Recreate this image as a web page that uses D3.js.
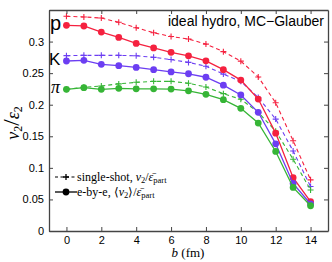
<!DOCTYPE html>
<html><head><meta charset="utf-8">
<script src="https://cdn.jsdelivr.net/npm/d3@7/dist/d3.min.js"></script>
<style>body{margin:0;background:#fff}svg{display:block}</style>
</head><body>
<svg id="c" width="332" height="262"></svg>
<script>
const bValues = [0,1,2,3,4,5,6,7,8,9,10,11,12,13,14];
const pEbe  = [0.3258,0.3247,0.315,0.3065,0.297,0.290,0.283,0.2775,0.2695,0.2555,0.239,0.209,0.155,0.0845,0.0465];
const pSS   = [0.340,0.339,0.3373,0.3305,0.322,0.314,0.308,0.304,0.296,0.284,0.269,0.244,0.203,0.143,0.081];
const kEbe  = [0.2692,0.2703,0.264,0.2618,0.259,0.2555,0.252,0.249,0.2435,0.231,0.2155,0.188,0.138,0.0752,0.0428];
const kSS   = [0.2777,0.2782,0.2782,0.2782,0.2775,0.275,0.2715,0.267,0.261,0.2485,0.237,0.2115,0.1772,0.1267,0.0705];
const piEbe = [0.2244,0.227,0.2244,0.226,0.2252,0.2252,0.2248,0.222,0.2165,0.208,0.1943,0.171,0.126,0.069,0.040];
const piSS  = [0.2244,0.2276,0.2297,0.233,0.2355,0.237,0.237,0.234,0.228,0.2175,0.2086,0.188,0.158,0.1136,0.0649];
const xTicks = [0,2,4,6,8,10,12,14];
const yTicks = [0,0.05,0.1,0.15,0.2,0.25,0.3,0.35];
const yTickLabels = ["0","0.05","0.1","0.15","0.2","0.25","0.3",""];
const species = ["p","K","π"];
const colors = ["#f5213f","#6c3ef2","#36b536"];

const svg = d3.select("#c");
const L=49,R=328,T=10,B=231;
const x = d3.scaleLinear().domain([-1,15]).range([L,R]);
const y = d3.scaleLinear().domain([0,0.35]).range([B,T]);

const series = [
  {ss:pSS, ebe:pEbe, c:colors[0]},
  {ss:kSS, ebe:kEbe, c:colors[1]},
  {ss:piSS, ebe:piEbe, c:colors[2]}
];
const line = d3.line().x(d=>x(d[0])).y(d=>y(d[1]));
const g = svg.append("g");
series.forEach(s=>{
  const ss = bValues.map((b,i)=>[b,s.ss[i]]);
  g.append("path").attr("d",line(ss)).attr("fill","none").attr("stroke",s.c)
    .attr("stroke-width",1.1).attr("stroke-dasharray","4,3");
  ss.forEach(d=>{
    const cx=x(d[0]), cy=y(d[1]);
    g.append("path").attr("d",`M${cx-3},${cy}H${cx+3}M${cx},${cy-3}V${cy+3}`)
      .attr("stroke",s.c).attr("stroke-width",1.1);
  });
});
series.forEach(s=>{
  const eb = bValues.map((b,i)=>[b,s.ebe[i]]);
  g.append("path").attr("d",line(eb)).attr("fill","none").attr("stroke",s.c).attr("stroke-width",1.3);
  g.selectAll(null).data(eb).enter().append("circle")
    .attr("cx",d=>x(d[0])).attr("cy",d=>y(d[1])).attr("r",3.4).attr("fill",s.c);
});

const axStyle = sel=>{
  sel.selectAll(".domain").attr("stroke","#444").attr("stroke-width",1.3);
  sel.selectAll(".tick line").attr("stroke","#444").attr("stroke-width",1);
  sel.selectAll("text").attr("font-family","Liberation Sans, Arial, sans-serif").attr("font-size",11).attr("fill","#000");
};
svg.append("g").attr("transform",`translate(0,${B})`)
  .call(d3.axisBottom(x).tickValues(xTicks).tickSize(-4).tickSizeOuter(0).tickPadding(5)).call(axStyle);
svg.append("g").attr("transform",`translate(0,${T})`)
  .call(d3.axisTop(x).tickValues(xTicks).tickSize(-4).tickSizeOuter(0).tickFormat("")).call(axStyle);
svg.append("g").attr("transform",`translate(${L},0)`)
  .call(d3.axisLeft(y).tickValues(yTicks).tickSize(-4).tickSizeOuter(0).tickPadding(5)
    .tickFormat((d,i)=>yTickLabels[i])).call(axStyle);
svg.append("g").attr("transform",`translate(${R},0)`)
  .call(d3.axisRight(y).tickValues(yTicks).tickSize(-4).tickSizeOuter(0).tickFormat("")).call(axStyle);

const lab = [
  {t:species[0], x:50, y:30, fs:20, fam:"Liberation Sans, Arial, sans-serif"},
  {t:species[1], x:49, y:65, fs:17, fam:"Liberation Sans, Arial, sans-serif"},
  {t:species[2], x:51, y:93, fs:18, fam:"Liberation Serif, Times New Roman, serif", it:true}
];
lab.forEach(l=>svg.append("text").attr("x",l.x).attr("y",l.y).attr("font-size",l.fs)
  .attr("font-family",l.fam).attr("font-style",l.it?"italic":"normal").text(l.t));

svg.append("text").attr("x",324).attr("y",26).attr("text-anchor","end")
  .attr("font-family","Liberation Sans, Arial, sans-serif").attr("font-size",14).text("ideal hydro, MC−Glauber");

const xl = svg.append("text").attr("x",188).attr("y",257).attr("text-anchor","middle")
  .attr("font-family","Liberation Serif, Times New Roman, serif").attr("font-size",13);
xl.append("tspan").attr("font-style","italic").text("b");
xl.append("tspan").text(" (fm)");

const yl = svg.append("text").attr("transform",`translate(19,123) rotate(-90)`).attr("text-anchor","middle")
  .attr("font-family","Liberation Serif, Times New Roman, serif").attr("font-size",18);
yl.append("tspan").attr("font-style","italic").text("v");
yl.append("tspan").attr("font-size",12).attr("dy",3).text("2");
yl.append("tspan").attr("dy",-3).attr("font-size",23).text("/");
yl.append("tspan").attr("font-style","italic").text("ε");
yl.append("tspan").attr("font-size",12).attr("dy",3).text("2");

const lg = svg.append("g");
const ly1=177, ly2=192;
lg.append("line").attr("x1",55).attr("x2",77).attr("y1",ly1).attr("y2",ly1).attr("stroke","#000").attr("stroke-width",1.2).attr("stroke-dasharray","3,2.5");
lg.append("path").attr("d",`M63,${ly1}H69M66,${ly1-3}V${ly1+3}`).attr("stroke","#000").attr("stroke-width",1.3);
lg.append("line").attr("x1",55).attr("x2",77).attr("y1",ly2).attr("y2",ly2).attr("stroke","#000").attr("stroke-width",1.3);
lg.append("circle").attr("cx",66).attr("cy",ly2).attr("r",3.4).attr("fill","#000");
const ser = "Liberation Serif, Times New Roman, serif";
const t1 = lg.append("text").attr("x",77).attr("y",ly1+3.5).attr("font-family",ser).attr("font-size",12);
t1.append("tspan").text("single-shot, ");
t1.append("tspan").attr("font-style","italic").text("v");
t1.append("tspan").attr("font-size",8.5).attr("dy",2).text("2");
t1.append("tspan").attr("dy",-2).text("/");
t1.append("tspan").attr("font-style","italic").text("ε̄");
t1.append("tspan").attr("font-size",8.5).attr("dy",2).text("part");
const t2 = lg.append("text").attr("x",77).attr("y",ly2+3.5).attr("font-family",ser).attr("font-size",12);
t2.append("tspan").text("e-by-e, ⟨");
t2.append("tspan").attr("font-style","italic").text("v");
t2.append("tspan").attr("font-size",8.5).attr("dy",2).text("2");
t2.append("tspan").attr("dy",-2).text("⟩/");
t2.append("tspan").attr("font-style","italic").text("ε̄");
t2.append("tspan").attr("font-size",8.5).attr("dy",2).text("part");
</script>
</body></html>
